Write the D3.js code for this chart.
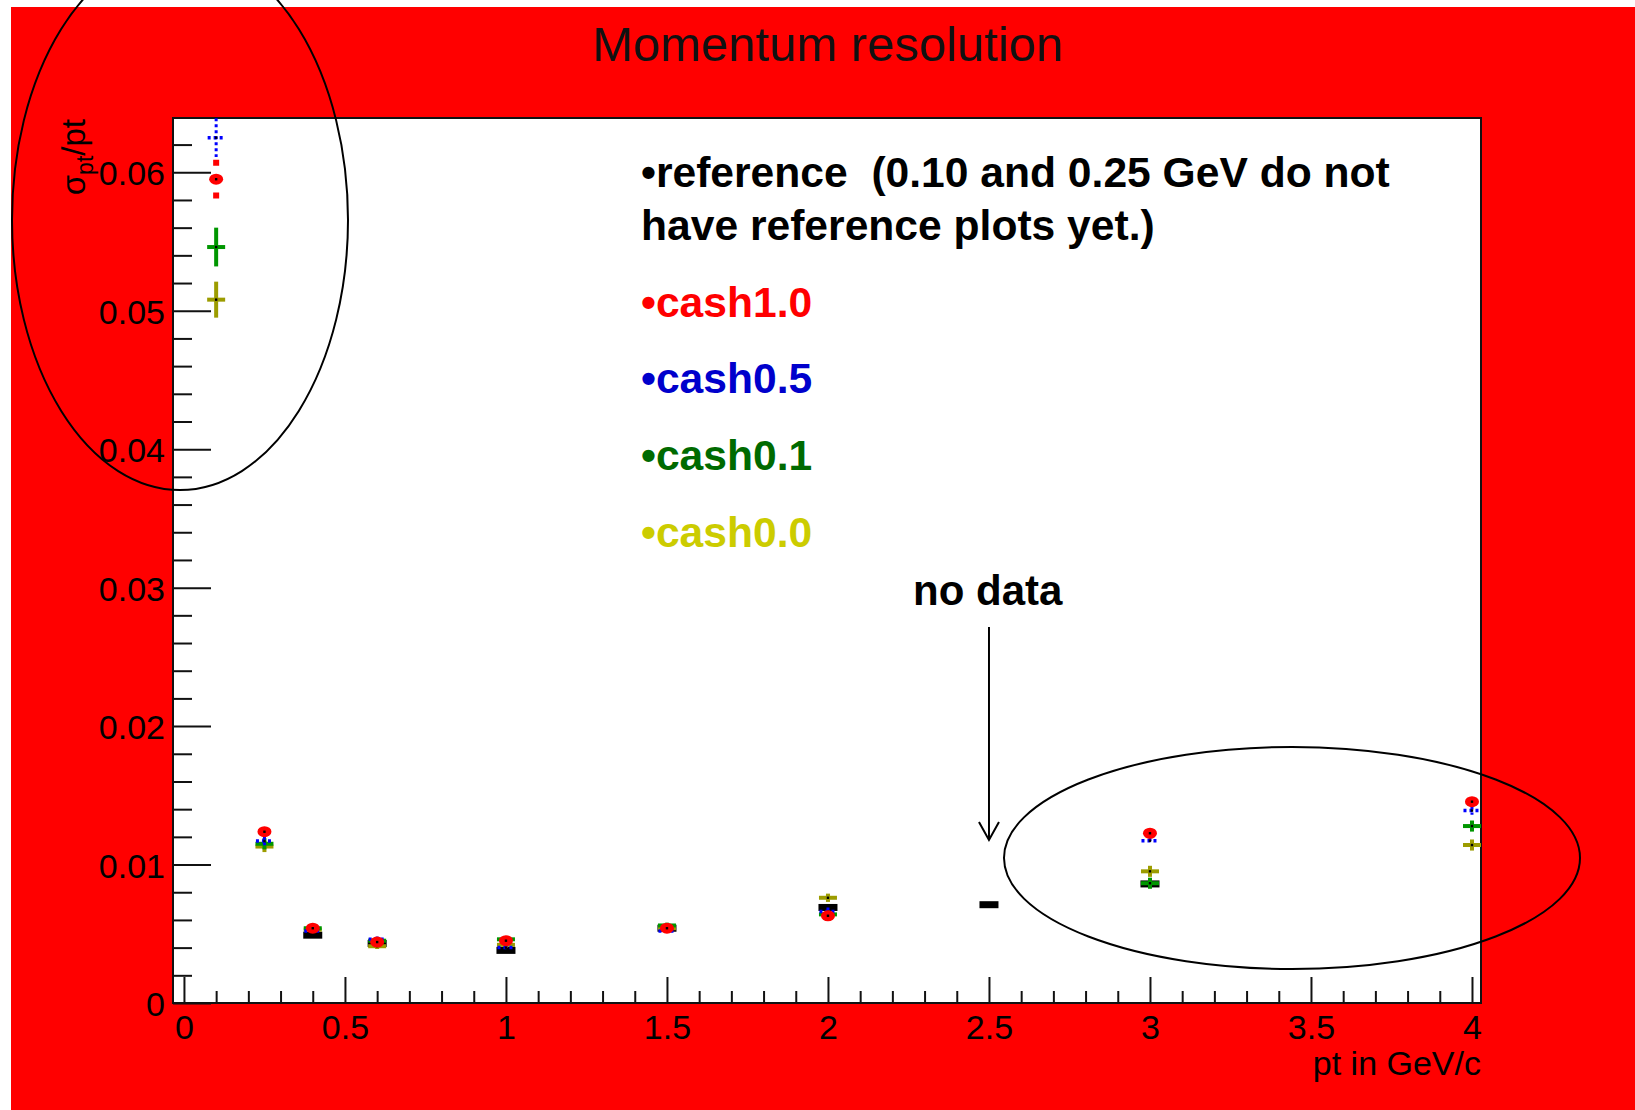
<!DOCTYPE html>
<html>
<head>
<meta charset="utf-8">
<script src="https://cdn.jsdelivr.net/npm/d3@7"></script>
<style>
  body { margin: 0; background: #fff; }
  svg text { font-family: "Liberation Sans", Arial, Helvetica, sans-serif; }
</style>
</head>
<body>
<div id="chart-area"></div>
<script>
// pt bins of the cash samples (no sample at 2.5 GeV)
const ptBins = [0.1, 0.25, 0.4, 0.6, 1.0, 1.5, 2.0, 3.0, 4.0];
const cash10Res = [0.0595, 0.01237, 0.0054, 0.0044, 0.0045, 0.0054, 0.0063, 0.01226, 0.01454];
const cash10Err = [0.0014, 0.0003, 0.0002, 0.0002, 0.0002, 0.0002, 0.0003, 0.0003, 0.0003];
const cash05Res = [0.0625, 0.0117, 0.0052, 0.0046, 0.0040, 0.0052, 0.0066, 0.01172, 0.0139];
const cash05Err = [0.0014, 0.0003, 0.0002, 0.0002, 0.0002, 0.0002, 0.0003, 0.0002, 0.0003];
const cash01Res = [0.0546, 0.0115, 0.0054, 0.0045, 0.0046, 0.0056, 0.0064, 0.00865, 0.01278];
const cash01Err = [0.0014, 0.0004, 0.0002, 0.0002, 0.0002, 0.0002, 0.0003, 0.0004, 0.0004];
const cash00Res = [0.0508, 0.0113, 0.0053, 0.0041, 0.0042, 0.0054, 0.0076, 0.00951, 0.01141];
const cash00Err = [0.0013, 0.0004, 0.0002, 0.0002, 0.0002, 0.0002, 0.0003, 0.0004, 0.0004];

// reference has no 0.10 / 0.25 points
const refPt = [0.4, 0.6, 1.0, 1.5, 2.0, 2.5, 3.0];
const refRes = [0.0049, 0.0043, 0.0038, 0.0054, 0.0069, 0.0071, 0.0086];

const xTicks = [0, 0.5, 1, 1.5, 2, 2.5, 3, 3.5, 4];
const xTickLabels = ['0', '0.5', '1', '1.5', '2', '2.5', '3', '3.5', '4'];
const yTicks = [0, 0.01, 0.02, 0.03, 0.04, 0.05, 0.06];
const yTickLabels = ['0', '0.01', '0.02', '0.03', '0.04', '0.05', '0.06'];

const legendText = ['•reference  (0.10 and 0.25 GeV do not', 'have reference plots yet.)',
  '•cash1.0', '•cash0.5', '•cash0.1', '•cash0.0'];
const legendColors = ['#000', '#000', '#ff0000', '#0000cc', '#006a00', '#cccc00'];

const chartSize = { width: 1635, height: 1110 };
const frame = { left: 173, top: 118, right: 1481, bottom: 1003 };

const initChart = () => {
  const svg = d3.select('#chart-area').append('svg')
    .attr('width', chartSize.width)
    .attr('height', chartSize.height);

  svg.append('rect')
    .attr('x', 11).attr('y', 7)
    .attr('width', chartSize.width - 11).attr('height', chartSize.height - 7)
    .attr('fill', '#ff0000');

  svg.append('rect')
    .attr('x', frame.left).attr('y', frame.top)
    .attr('width', frame.right - frame.left).attr('height', frame.bottom - frame.top)
    .attr('fill', '#fff');

  svg.append('text')
    .attr('x', 828).attr('y', 61)
    .attr('text-anchor', 'middle')
    .attr('font-size', 49)
    .attr('fill', '#111')
    .text('Momentum resolution');

  svg.append('defs').append('clipPath').attr('id', 'plot-clip')
    .append('rect')
    .attr('x', frame.left).attr('y', frame.top)
    .attr('width', frame.right - frame.left).attr('height', frame.bottom - frame.top);

  return svg;
}

const drawAxes = (svg, x, y) => {
  const minorY = d3.range(0, 0.0635, 0.002).filter(v => Math.abs(v * 100 - Math.round(v * 100)) > 1e-6);
  const minorX = d3.range(0, 4.001, 0.1).filter(v => Math.abs(v * 2 - Math.round(v * 2)) > 1e-6);

  const yMinor = svg.append('g').attr('class', 'y minor')
    .attr('transform', `translate(${frame.left},0)`)
    .call(d3.axisLeft(y).tickValues(minorY).tickSize(-19).tickFormat(''));

  const yMajor = svg.append('g').attr('class', 'y axis')
    .attr('transform', `translate(${frame.left},0)`)
    .call(d3.axisLeft(y).tickValues(yTicks).tickSize(-38).tickPadding(8)
      .tickFormat((d, i) => yTickLabels[i]));

  const xMinor = svg.append('g').attr('class', 'x minor')
    .attr('transform', `translate(0,${frame.bottom})`)
    .call(d3.axisBottom(x).tickValues(minorX).tickSize(-12).tickFormat(''));

  const xMajor = svg.append('g').attr('class', 'x axis')
    .attr('transform', `translate(0,${frame.bottom})`)
    .call(d3.axisBottom(x).tickValues(xTicks).tickSize(-26).tickPadding(12)
      .tickFormat((d, i) => xTickLabels[i]));

  [yMinor, yMajor, xMinor, xMajor].forEach(g => {
    g.select('.domain').remove();
    g.selectAll('line').attr('stroke', '#111').attr('stroke-width', 2);
    g.selectAll('text').attr('font-size', 34).attr('fill', '#000')
      .attr('font-family', '"Liberation Sans", Arial, sans-serif');
  });
  yMajor.selectAll('text').attr('dy', '0.37em');

  svg.append('rect')
    .attr('x', frame.left).attr('y', frame.top)
    .attr('width', frame.right - frame.left).attr('height', frame.bottom - frame.top)
    .attr('fill', 'none').attr('stroke', '#111').attr('stroke-width', 2);

  svg.append('text')
    .attr('x', frame.right).attr('y', 1075)
    .attr('text-anchor', 'end')
    .attr('font-size', 34)
    .text('pt in GeV/c');

  const ylabel = svg.append('text')
    .attr('transform', 'translate(85,119) rotate(-90)')
    .attr('text-anchor', 'end')
    .attr('font-size', 33);
  ylabel.append('tspan').text('σ');
  ylabel.append('tspan').attr('dy', 8).attr('font-size', 23).text('pt');
  ylabel.append('tspan').attr('dy', -8).text('/pt');
}

const drawSeries = (svg, x, y) => {
  const plot = svg.append('g').attr('clip-path', 'url(#plot-clip)');

  const ref = refPt.map((p, i) => ({ p, v: refRes[i] }));
  plot.selectAll('.ref').data(ref).join('rect')
    .attr('class', 'ref')
    .attr('x', d => x(d.p) - 9.5).attr('y', d => y(d.v) - 3.5)
    .attr('width', 19).attr('height', 7)
    .attr('fill', '#000');

  const series = [
    { name: 'cash0.0', res: cash00Res, err: cash00Err, color: '#9c9c00', kind: 'plus' },
    { name: 'cash0.1', res: cash01Res, err: cash01Err, color: '#009600', kind: 'plus' },
    { name: 'cash0.5', res: cash05Res, err: cash05Err, color: '#0000ff', kind: 'dotted' },
    { name: 'cash1.0', res: cash10Res, err: cash10Err, color: '#ff0000', kind: 'circle' }
  ];

  series.forEach(s => {
    const pts = ptBins.map((p, i) => ({ p, v: s.res[i], e: s.err[i] }));
    const g = plot.append('g').attr('class', s.name);

    const bars = g.selectAll('.err').data(pts).join('line')
      .attr('class', 'err')
      .attr('x1', d => x(d.p)).attr('x2', d => x(d.p))
      .attr('y1', d => y(d.v + d.e)).attr('y2', d => y(d.v - d.e))
      .attr('stroke', s.color);

    if (s.kind === 'circle') {
      bars.attr('stroke-width', 6).attr('stroke-dasharray', '6,10.4');
      g.selectAll('.mk').data(pts).join('ellipse')
        .attr('cx', d => x(d.p)).attr('cy', d => y(d.v))
        .attr('rx', 7).attr('ry', 5.5)
        .attr('fill', s.color);
    } else if (s.kind === 'dotted') {
      bars.attr('stroke-width', 3).attr('stroke-dasharray', '3,3');
      g.selectAll('.mk').data(pts).join('line')
        .attr('x1', d => x(d.p) - 8.5).attr('x2', d => x(d.p) + 8.5)
        .attr('y1', d => y(d.v)).attr('y2', d => y(d.v))
        .attr('stroke', s.color).attr('stroke-width', 3.5)
        .attr('stroke-dasharray', '3,3');
    } else {
      bars.attr('stroke-width', 4);
      g.selectAll('.mk').data(pts).join('line')
        .attr('x1', d => x(d.p) - 9).attr('x2', d => x(d.p) + 9)
        .attr('y1', d => y(d.v)).attr('y2', d => y(d.v))
        .attr('stroke', s.color).attr('stroke-width', 4);
    }

    g.selectAll('.dot').data(pts).join('rect')
      .attr('class', 'dot')
      .attr('x', d => x(d.p) - 1.2).attr('y', d => y(d.v) - 1.2)
      .attr('width', 2.4).attr('height', 2.4)
      .attr('fill', '#000');
  });
}

const drawNotes = (svg, x, y) => {
  const baselines = [187, 240, 317, 393, 470, 547];
  svg.selectAll('.legend').data(legendText).join('text')
    .attr('class', 'legend')
    .attr('x', 641)
    .attr('y', (d, i) => baselines[i])
    .attr('font-size', 42.6)
    .attr('font-weight', 'bold')
    .attr('fill', (d, i) => legendColors[i])
    .style('white-space', 'pre')
    .text(d => d);

  svg.append('text')
    .attr('x', 913).attr('y', 605)
    .attr('font-size', 42).attr('font-weight', 'bold')
    .text('no data');

  const ax = x(2.5);
  svg.append('line')
    .attr('x1', ax).attr('x2', ax).attr('y1', 627).attr('y2', 840)
    .attr('stroke', '#000').attr('stroke-width', 2);
  svg.append('polyline')
    .attr('points', `${ax - 10},822 ${ax},840 ${ax + 10},822`)
    .attr('fill', 'none').attr('stroke', '#000').attr('stroke-width', 2);

  svg.append('ellipse')
    .attr('cx', 180).attr('cy', 220).attr('rx', 168).attr('ry', 270)
    .attr('fill', 'none').attr('stroke', '#000').attr('stroke-width', 2);
  svg.append('ellipse')
    .attr('cx', 1292).attr('cy', 858).attr('rx', 288).attr('ry', 111)
    .attr('fill', 'none').attr('stroke', '#000').attr('stroke-width', 2);
}

const main = () => {
  const svg = initChart();
  const x = d3.scaleLinear().domain([-0.034, 4.028]).range([frame.left, frame.right]);
  const y = d3.scaleLinear().domain([0, 0.06392]).range([frame.bottom, frame.top]);
  drawAxes(svg, x, y);
  drawSeries(svg, x, y);
  drawNotes(svg, x, y);
}

window.onload = main;
</script>
</body>
</html>
